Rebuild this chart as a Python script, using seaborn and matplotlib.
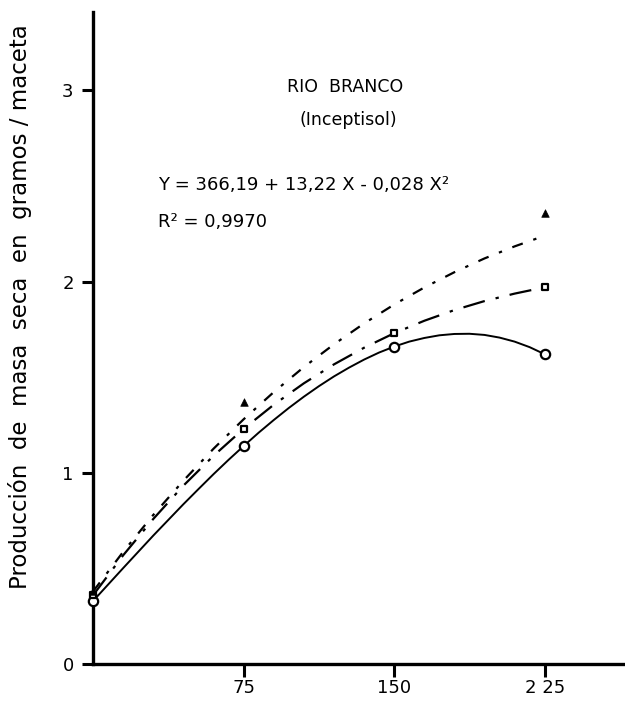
import numpy as np
import pandas as pd
import matplotlib
matplotlib.use("Agg")
import matplotlib.pyplot as plt
import seaborn as sns

# Dosis (x) y producción observada (puntos)
dosis = [0, 75, 150, 225]
circulos = [0.33, 1.14, 1.66, 1.62]
cuadrados = [0.36, 1.23, 1.73, 1.97]
triang_x = [0, 75, 225]
triangulos = [0.38, 1.37, 2.36]

# Curvas
solida_x = [0, 7.5, 15, 22.5, 30, 37.5, 45, 52.5, 60, 67.5, 75, 82.5, 90, 97.5, 105,
            112.5, 120, 127.5, 135, 142.5, 150, 157.5, 165, 172.5, 180, 187.5, 195,
            202.5, 210, 217.5, 225]
curva_solida = [0.330, 0.416, 0.502, 0.587, 0.672, 0.754, 0.836, 0.915, 0.993, 1.068,
                1.140, 1.210, 1.276, 1.339, 1.398, 1.453, 1.504, 1.550, 1.592, 1.629,
                1.660, 1.686, 1.705, 1.719, 1.726, 1.727, 1.721, 1.707, 1.686, 1.657,
                1.620]
curva_x = [0, 15, 30, 45, 60, 75, 90, 105, 120, 135, 150, 165, 180, 195, 210, 225]
curva_punto_raya = [0.360, 0.569, 0.759, 0.933, 1.089, 1.230, 1.356, 1.468, 1.567,
                    1.654, 1.730, 1.795, 1.851, 1.898, 1.937, 1.970]
curva_discontinua = [0.380, 0.587, 0.780, 0.959, 1.126, 1.280, 1.422, 1.553, 1.672,
                     1.781, 1.880, 1.969, 2.049, 2.121, 2.184, 2.240]

sns.set_style("ticks")
plt.rcParams['font.family'] = ['DejaVu Sans']
plt.rcParams['text.color'] = 'k'
plt.rcParams['axes.labelcolor'] = 'k'
plt.rcParams['xtick.color'] = 'k'
plt.rcParams['ytick.color'] = 'k'

fig = plt.figure(figsize=(6.25, 7.15), dpi=100)
ax = fig.add_axes([0.149, 0.0713, 0.851, 0.912])

curvas = pd.DataFrame({'x': curva_x, 'pr': curva_punto_raya, 'dis': curva_discontinua})

sns.lineplot(x=solida_x, y=curva_solida, ax=ax, color='k', lw=1.4)
sns.lineplot(data=curvas, x='x', y='pr', ax=ax, color='k', lw=1.6,
             linestyle=(0, (10, 5, 1.5, 5)))
sns.lineplot(data=curvas, x='x', y='dis', ax=ax, color='k', lw=1.6,
             linestyle=(0, (5, 5, 1.5, 5)))

sns.scatterplot(x=dosis, y=circulos, ax=ax, marker='o', s=45,
                facecolor='white', edgecolor='k', linewidth=1.6, zorder=5, clip_on=False)
sns.scatterplot(x=dosis, y=cuadrados, ax=ax, marker='s', s=22,
                facecolor='white', edgecolor='k', linewidth=1.6, zorder=5, clip_on=False)
sns.scatterplot(x=triang_x, y=triangulos, ax=ax, marker='^', s=30,
                color='k', edgecolor='k', zorder=5, clip_on=False)

ax.set_xlim(0, 265)
ax.set_ylim(0, 3.41)
ax.set_xticks([75, 150, 225])
ax.set_xticklabels(['75', '150', '2 25'])
ax.set_yticks([0, 1, 2, 3])
ax.set_yticklabels(['0', '1', '2', '3'])
ax.tick_params(axis='both', labelsize=13, width=2.2, length=8, color='k', pad=6)
ax.tick_params(axis='x', length=9, pad=2)

sns.despine(ax=ax)
for s in ['left', 'bottom']:
    ax.spines[s].set_linewidth(2.4)
    ax.spines[s].set_color('k')

ax.set_xlabel('')
ax.set_ylabel('Producción  de  masa  seca  en  gramos / maceta', fontsize=16.5)
ax.yaxis.set_label_coords(-0.115, 0.548)

ax.text(0.474, 0.885, 'RIO  BRANCO', transform=ax.transAxes, ha='center',
        va='center', fontsize=12.5)
ax.text(0.48, 0.835, '(Inceptisol)', transform=ax.transAxes, ha='center',
        va='center', fontsize=12.5)
ax.text(0.122, 0.735, 'Y = 366,19 + 13,22 X - 0,028 X²', transform=ax.transAxes,
        ha='left', va='center', fontsize=13)
ax.text(0.122, 0.678, 'R² = 0,9970', transform=ax.transAxes,
        ha='left', va='center', fontsize=13)

fig.savefig('out.png', dpi=100)
